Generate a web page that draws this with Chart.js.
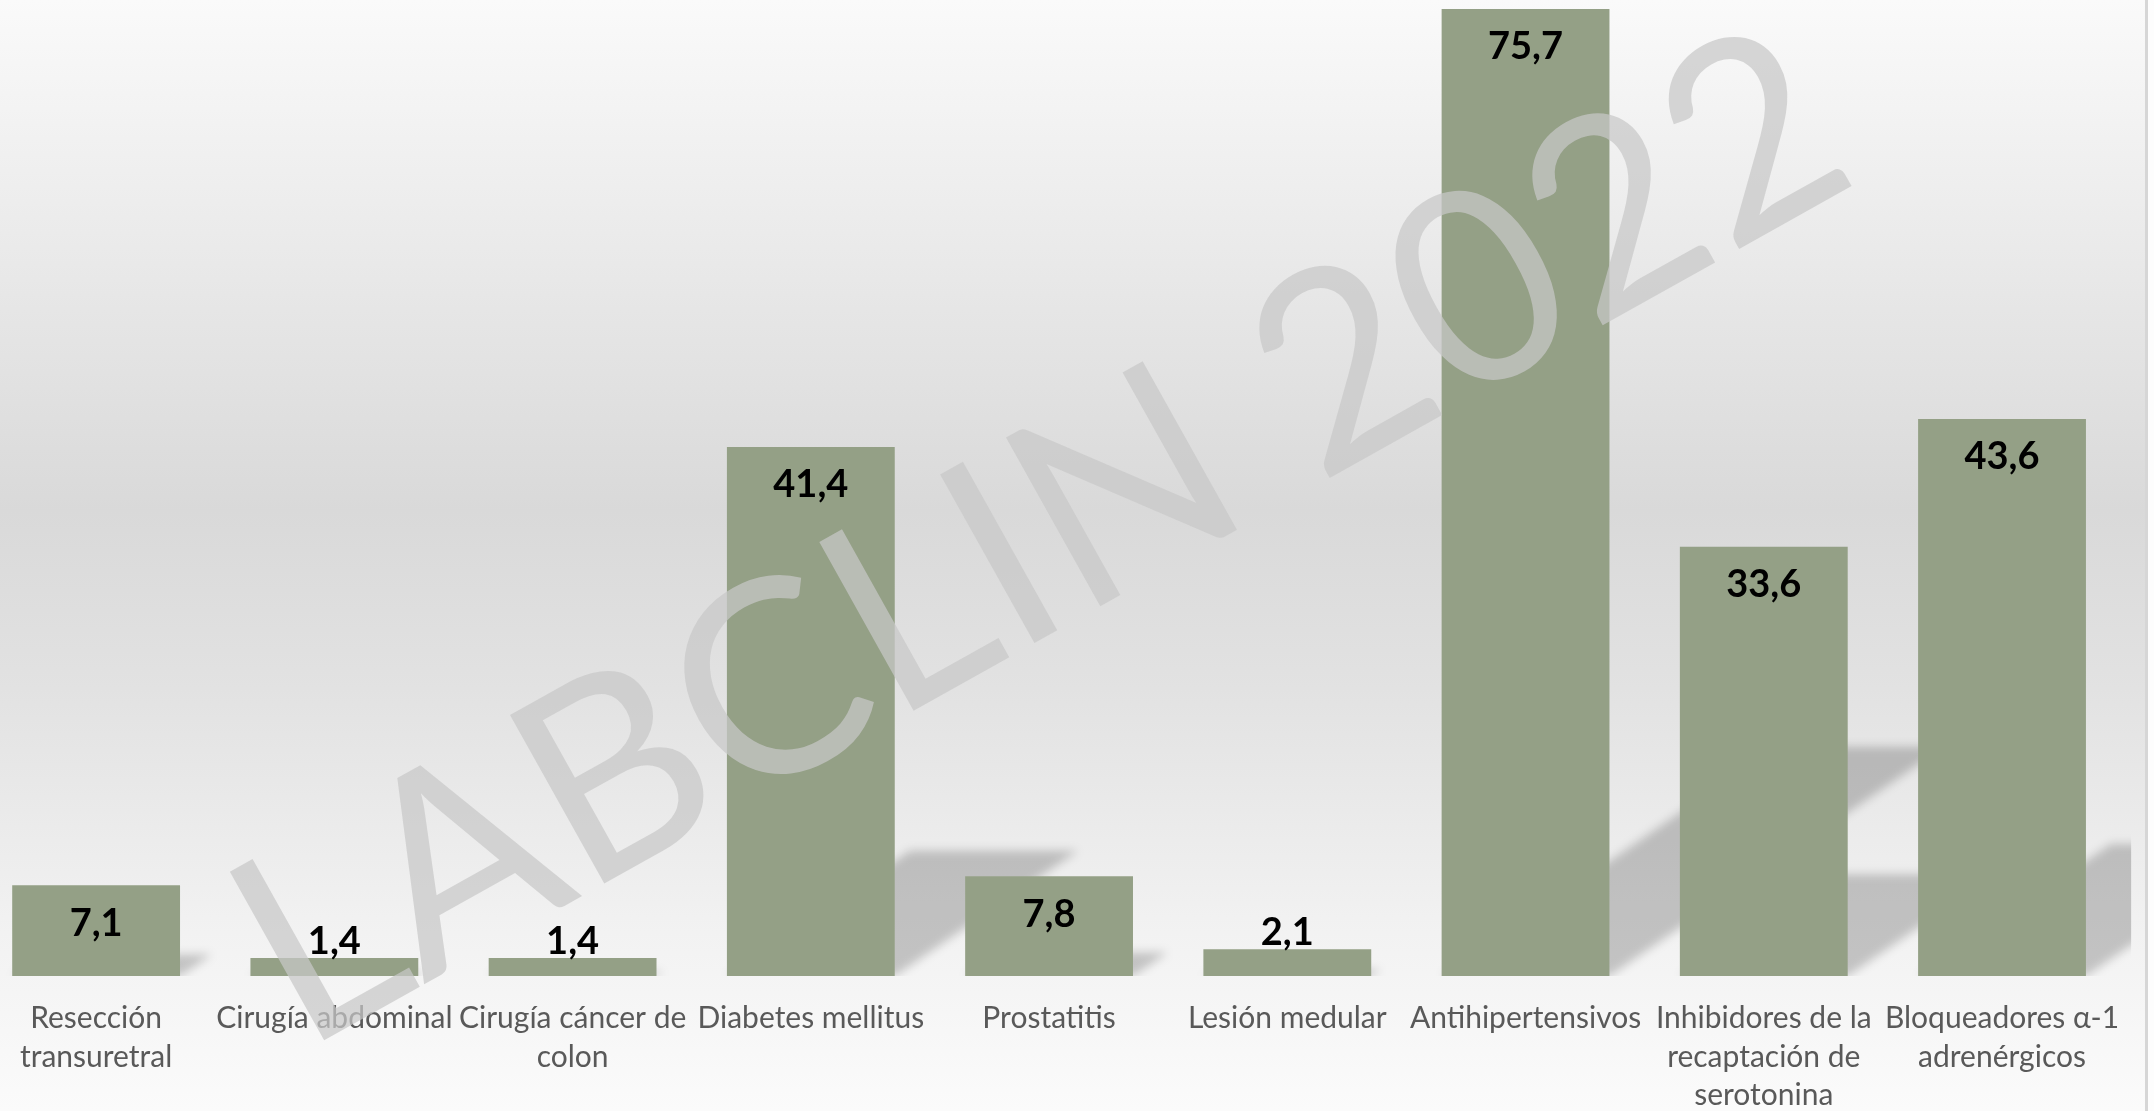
<!DOCTYPE html>
<html>
<head>
<meta charset="utf-8">
<script src="https://cdn.jsdelivr.net/npm/chart.js@4.4.1/dist/chart.umd.min.js"></script>
<style>
  html, body { margin: 0; padding: 0; }
  body {
    width: 2154px; height: 1111px; overflow: hidden; position: relative;
    background: linear-gradient(to bottom, #fafafa 0%, #d9d9d9 46%, #e2e2e2 62%, #f2f2f2 84%, #fbfbfb 100%);
  }
  #chart { position: absolute; left: -23px; top: 0; }
  #edge { position: absolute; left: 2145px; top: 0; width: 3px; height: 1111px; background: #d6d6d6; }
  #edgeR { position: absolute; left: 2148px; top: 0; width: 6px; height: 1111px; background: #fdfdfd; }
</style>
</head>
<body>
<canvas id="chart" width="2166" height="1111"></canvas>
<div id="edge"></div>
<div id="edgeR"></div>
<script>
// data
const categories = [
  ['Resección', 'transuretral'],
  ['Cirugía abdominal'],
  ['Cirugía cáncer de', 'colon'],
  ['Diabetes mellitus'],
  ['Prostatitis'],
  ['Lesión medular'],
  ['Antihipertensivos'],
  ['Inhibidores de la', 'recaptación de', 'serotonina'],
  ['Bloqueadores α-1', 'adrenérgicos']
];
const values = [7.1, 1.4, 1.4, 41.4, 7.8, 2.1, 75.7, 33.6, 43.6];
const watermark = 'LABCLIN 2022';

const barColor = '#94a086';
const shift = 23; // canvas sits 23px left of the page

// perspective shadow behind each bar
const shadowPlugin = {
  id: 'barShadow',
  beforeDatasetsDraw(chart) {
    const ctx = chart.ctx, a = chart.chartArea;
    const meta = chart.getDatasetMeta(0);
    ctx.save();
    ctx.beginPath();
    ctx.rect(a.left, a.top, a.right - a.left + 10, a.bottom - a.top);
    ctx.clip();
    ctx.filter = 'blur(5px)';
    ctx.fillStyle = 'rgba(0,0,0,0.2)';
    meta.data.forEach(bar => {
      const h = (bar.base - bar.y) * 0.237;
      const dx = h * 1.46;
      const l = bar.x - bar.width / 2, r = bar.x + bar.width / 2;
      ctx.beginPath();
      ctx.moveTo(l, bar.base);
      ctx.lineTo(r, bar.base);
      ctx.lineTo(r + dx, bar.base - h);
      ctx.lineTo(l + dx, bar.base - h);
      ctx.closePath();
      ctx.fill();
    });
    ctx.restore();
  }
};

// value labels, inside the top of the bar or just above short ones
const valueLabels = {
  id: 'valueLabels',
  afterDatasetsDraw(chart) {
    const ctx = chart.ctx;
    const meta = chart.getDatasetMeta(0);
    ctx.save();
    ctx.font = 'bold 38px Lato';
    ctx.fillStyle = '#000';
    ctx.textAlign = 'center';
    ctx.textBaseline = 'middle';
    meta.data.forEach((bar, i) => {
      const txt = values[i].toFixed(1).replace('.', ',');
      const hgt = bar.base - bar.y;
      const y = hgt > 60 ? bar.y + 38 : bar.y - 16;
      ctx.fillText(txt, bar.x, y);
    });
    ctx.restore();
  }
};

// LABCLIN watermark on top of everything
const watermarkPlugin = {
  id: 'watermark',
  afterDraw(chart) {
    const ctx = chart.ctx;
    const x0 = 321 + shift, y0 = 1042, x1 = 1850 + shift, y1 = 187;
    const len = Math.hypot(x1 - x0, y1 - y0);
    const ang = Math.atan2(y1 - y0, x1 - x0);
    ctx.save();
    ctx.font = '400 100px Lato';
    let m = ctx.measureText(watermark);
    const size = 100 * len / (m.actualBoundingBoxLeft + m.actualBoundingBoxRight);
    ctx.font = '400 ' + size + 'px Lato';
    m = ctx.measureText(watermark);
    ctx.translate(x0, y0);
    ctx.rotate(ang);
    ctx.fillStyle = 'rgba(200,200,200,0.72)';
    ctx.textAlign = 'left';
    ctx.textBaseline = 'alphabetic';
    ctx.fillText(watermark, m.actualBoundingBoxLeft, 0);
    ctx.restore();
  }
};

const data = {
  labels: categories,
  datasets: [{
    data: values,
    backgroundColor: barColor,
    borderWidth: 0,
    categoryPercentage: 1,
    barPercentage: 0.7045
  }]
};

const config = {
  type: 'bar',
  data,
  options: {
    responsive: false,
    animation: false,
    layout: { padding: { right: 16 } },
    plugins: { legend: { display: false }, tooltip: { enabled: false } },
    scales: {
      x: {
        grid: { display: false, drawTicks: false },
        border: { display: false },
        ticks: {
          color: '#595959',
          padding: 23,
          maxRotation: 0,
          autoSkip: false,
          font: { family: 'Lato', size: 30, lineHeight: 1.29 }
        },
        afterFit: s => { s.height = 135; }
      },
      y: { display: false, min: 0, max: 76.4 }
    }
  },
  plugins: [shadowPlugin, valueLabels, watermarkPlugin]
};

const myChart = new Chart(document.getElementById('chart'), config);
</script>
</body>
</html>
